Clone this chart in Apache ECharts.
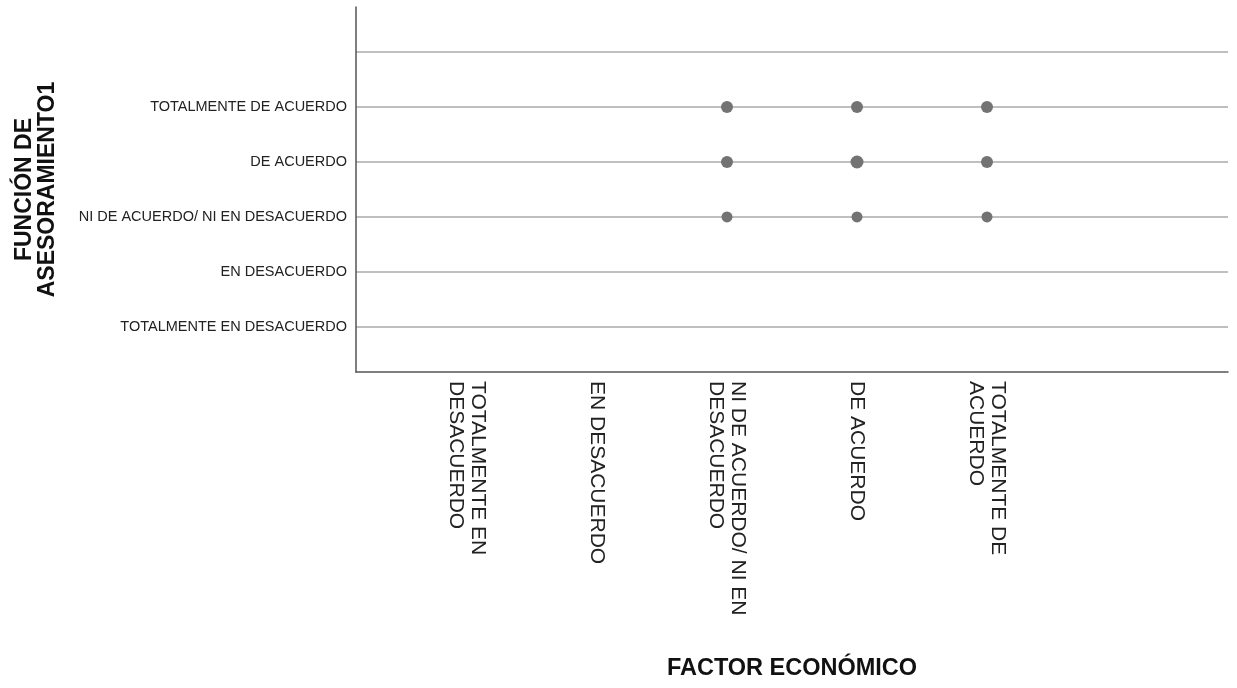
<!DOCTYPE html>
<html>
<head>
<meta charset="utf-8">
<script src="https://cdn.jsdelivr.net/npm/echarts@6/dist/echarts.min.js"></script>
<style>html,body{margin:0;padding:0;background:#fff;}#c{width:1237px;height:688px;}</style>
</head>
<body>
<div id="c"></div>
<script>
const xCategories = ['TOTALMENTE EN\nDESACUERDO', 'EN DESACUERDO', 'NI DE ACUERDO/ NI EN\nDESACUERDO', 'DE ACUERDO', 'TOTALMENTE DE\nACUERDO'];
const yCategories = ['TOTALMENTE EN DESACUERDO', 'EN DESACUERDO', 'NI DE ACUERDO/ NI EN DESACUERDO', 'DE ACUERDO', 'TOTALMENTE DE ACUERDO'];
const xCodes = [1, 2, 3, 4, 5];
const yCodes = [1, 2, 3, 4, 5];
const yGridCodes = [1, 2, 3, 4, 5, 6];
// observed combinations: x code, y code, relative marker size
const pointX = [3, 4, 5, 3, 4, 5, 3, 4, 5];
const pointY = [3, 3, 3, 4, 4, 4, 5, 5, 5];
const pointSize = [11, 11, 11, 12, 13, 12, 12, 12, 12];

const chart = echarts.init(document.getElementById('c'), null, {renderer: 'canvas'});
const font = "'Liberation Sans', Arial, sans-serif";
chart.setOption({
  backgroundColor: '#ffffff',
  animation: false,
  grid: {left: 356, right: 9, top: 7, bottom: 316, containLabel: false},
  xAxis: {
    type: 'value', min: 0.146, max: 6.854,
    name: 'FACTOR ECONÓMICO', nameLocation: 'middle', nameGap: 285,
    nameTextStyle: {fontFamily: font, fontSize: 23.5, fontWeight: 'bold', color: '#111'},
    axisLine: {show: true, lineStyle: {color: '#555', width: 1.5}},
    axisTick: {show: false, customValues: xCodes},
    splitLine: {show: false},
    axisLabel: {
      customValues: xCodes, rotate: -90, margin: 9,
      fontFamily: font, fontSize: 21, lineHeight: 22, color: '#222',
      padding: [8, 0, 0, 0],
      formatter: v => xCategories[Math.round(v) - 1] || ''
    }
  },
  yAxis: {
    type: 'value', min: 0.18, max: 6.82,
    name: 'FUNCIÓN DE\nASESORAMIENTO1', nameLocation: 'middle', nameGap: 297,
    nameTextStyle: {fontFamily: font, fontSize: 23, fontWeight: 'bold', color: '#111', lineHeight: 23},
    axisLine: {show: true, lineStyle: {color: '#555', width: 1.5}},
    axisTick: {show: false, customValues: yGridCodes},
    splitLine: {show: true, lineStyle: {color: '#bfbfbf', width: 2}},
    axisLabel: {
      customValues: yCodes, margin: 9,
      fontFamily: font, fontSize: 14.5, color: '#222',
      formatter: v => yCategories[Math.round(v) - 1] || ''
    }
  },
  series: [{
    type: 'scatter',
    data: pointX.map((x, i) => [x, pointY[i], pointSize[i]]),
    symbolSize: d => d[2],
    itemStyle: {color: '#737373', opacity: 1},
    z: 5
  }]
});
</script>
</body>
</html>
